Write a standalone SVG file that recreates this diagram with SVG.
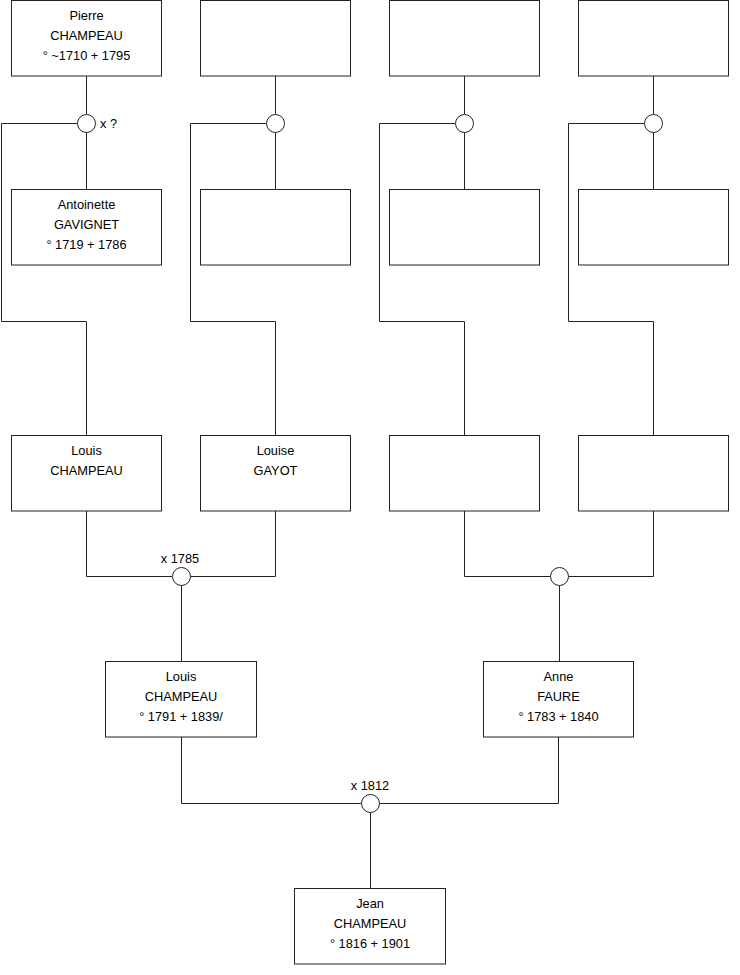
<svg xmlns="http://www.w3.org/2000/svg" width="740" height="975" viewBox="0 0 740 975">
<style>
.box{fill:#fff;stroke:#222;stroke-width:1}
.c{fill:#fff;stroke:#222;stroke-width:1}
.ln{fill:none;stroke:#222;stroke-width:1}
text{font-family:"Liberation Sans",Arial,sans-serif;font-size:12.8px;fill:#000}
.m{text-anchor:middle}
</style>
<rect width="740" height="975" fill="#fff"/>
<g id="connectors">
<path class="ln" d="M86.5 76V114M86.5 132V189M77 123.5H1.5V321.5H86.5V435"/>
<path class="ln" d="M275.5 76V114M275.5 132V189M266 123.5H190.5V321.5H275.5V435"/>
<path class="ln" d="M464.5 76V114M464.5 132V189M455 123.5H379.5V321.5H464.5V435"/>
<path class="ln" d="M653.5 76V114M653.5 132V189M644 123.5H568.5V321.5H653.5V435"/>
<path class="ln" d="M86.5 511V576.5H172M190 576.5H275.5V511M181.5 585.5V661"/>
<path class="ln" d="M464.5 511V576.5H550M568 576.5H653.5V511M559.5 585.5V661"/>
<path class="ln" d="M181.5 737V803.5H361M379 803.5H558.5V737M370.5 812.5V888"/>
</g>
<g id="n_pierre"><rect class="box" x="11.5" y="0.5" width="150" height="75.5"/><text class="m" x="86.5" y="20">Pierre</text><text class="m" x="86.5" y="40">CHAMPEAU</text><text class="m" x="86.5" y="60">° ~1710 + 1795</text></g>
<g id="n_b2"><rect class="box" x="200.5" y="0.5" width="150" height="75.5"/></g>
<g id="n_b3"><rect class="box" x="389.5" y="0.5" width="150" height="75.5"/></g>
<g id="n_b4"><rect class="box" x="578.5" y="0.5" width="150" height="75.5"/></g>
<g id="m1"><circle class="c" cx="86.5" cy="123.5" r="9"/><text x="100" y="128">x ?</text></g>
<g id="m2"><circle class="c" cx="275.5" cy="123.5" r="9"/></g>
<g id="m3"><circle class="c" cx="464.5" cy="123.5" r="9"/></g>
<g id="m4"><circle class="c" cx="653.5" cy="123.5" r="9"/></g>
<g id="n_antoinette"><rect class="box" x="11.5" y="189.5" width="150" height="75.5"/><text class="m" x="86.5" y="209">Antoinette</text><text class="m" x="86.5" y="229">GAVIGNET</text><text class="m" x="86.5" y="249">° 1719 + 1786</text></g>
<g id="n_c2"><rect class="box" x="200.5" y="189.5" width="150" height="75.5"/></g>
<g id="n_c3"><rect class="box" x="389.5" y="189.5" width="150" height="75.5"/></g>
<g id="n_c4"><rect class="box" x="578.5" y="189.5" width="150" height="75.5"/></g>
<g id="n_louis1"><rect class="box" x="11.5" y="435.5" width="150" height="75.5"/><text class="m" x="86.5" y="455">Louis</text><text class="m" x="86.5" y="475">CHAMPEAU</text></g>
<g id="n_louise"><rect class="box" x="200.5" y="435.5" width="150" height="75.5"/><text class="m" x="275.5" y="455">Louise</text><text class="m" x="275.5" y="475">GAYOT</text></g>
<g id="n_d3"><rect class="box" x="389.5" y="435.5" width="150" height="75.5"/></g>
<g id="n_d4"><rect class="box" x="578.5" y="435.5" width="150" height="75.5"/></g>
<g id="m5"><circle class="c" cx="181.5" cy="576.5" r="9"/><text class="m" x="180" y="563">x 1785</text></g>
<g id="m6"><circle class="c" cx="559.5" cy="576.5" r="9"/></g>
<g id="n_louis2"><rect class="box" x="105.5" y="661.5" width="151" height="75.5"/><text class="m" x="181" y="681">Louis</text><text class="m" x="181" y="701">CHAMPEAU</text><text class="m" x="181" y="721">° 1791 + 1839/</text></g>
<g id="n_anne"><rect class="box" x="483.5" y="661.5" width="150" height="75.5"/><text class="m" x="558.5" y="681">Anne</text><text class="m" x="558.5" y="701">FAURE</text><text class="m" x="558.5" y="721">° 1783 + 1840</text></g>
<g id="m7"><circle class="c" cx="370.5" cy="803.5" r="9"/><text class="m" x="370" y="790">x 1812</text></g>
<g id="n_jean"><rect class="box" x="294.5" y="888.5" width="151" height="75.5"/><text class="m" x="370" y="908">Jean</text><text class="m" x="370" y="928">CHAMPEAU</text><text class="m" x="370" y="948">° 1816 + 1901</text></g>
</svg>
